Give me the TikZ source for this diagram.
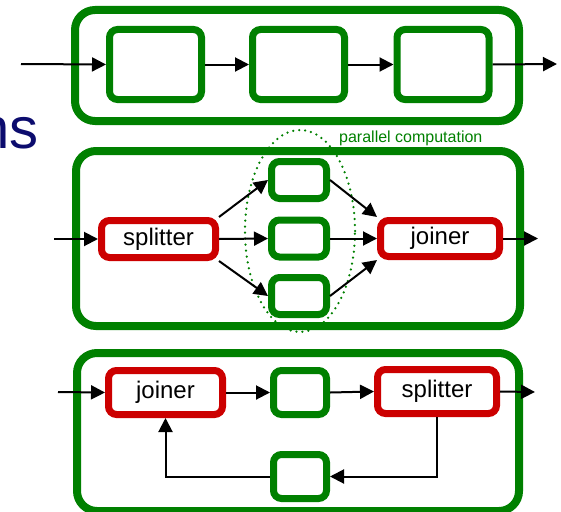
\documentclass[tikz,border=0pt]{standalone}
\usepackage{fontspec}
\setmainfont{Liberation Sans}
\usetikzlibrary{arrows.meta}
\definecolor{boxgreen}{RGB}{0,128,0}
\definecolor{boxred}{RGB}{204,0,0}
\definecolor{titleblue}{RGB}{12,12,110}

\begin{document}
\begin{tikzpicture}[x=1pt,y=-1pt,
  pipeline/.style={draw=boxgreen,line width=8pt,rounded corners=20pt,rectangle,inner sep=0pt},
  stage/.style={draw=boxgreen,fill=white,line width=7pt,rounded corners=8pt,rectangle,inner sep=0pt},
  splitjoin/.style={draw=boxred,fill=white,line width=7pt,rounded corners=8pt,rectangle,inner sep=0pt,
    font=\fontsize{24}{28}\selectfont},
  flow/.style={draw=black,line width=2pt,-{Triangle[length=14pt,width=14pt]}},
  link/.style={draw=black,line width=2pt},
  group/.style={draw=boxgreen,line width=2.5pt,line cap=round,dash pattern=on 0pt off 6pt}
]
\useasboundingbox (0,0) rectangle (561,511);

% clipped title fragment
\node[anchor=base east,inner sep=0pt,text=titleblue,font=\fontsize{58}{60}\selectfont] (title) at (39,148) {ns};

% outer composite boxes
\node[pipeline,minimum width=444pt,minimum height=111pt] (pipe) at (297,65.5) {};
\node[pipeline,minimum width=444pt,minimum height=175pt] (sj) at (298,238.5) {};
\node[pipeline,minimum width=442pt,minimum height=158pt] (fl) at (298,432) {};

% pipeline of three stages
\node[stage,minimum width=92pt,minimum height=70pt] (p1) at (155.5,64.5) {};
\node[stage,minimum width=92pt,minimum height=70pt] (p2) at (298.5,64.5) {};
\node[stage,minimum width=92pt,minimum height=70pt] (p3) at (443,64.5) {};
\coordinate (pin) at (21,64);
\coordinate (pout) at (557,64);
\draw[flow] (pin) -- (p1.west);
\draw[flow] (p1.east) -- (p2.west);
\draw[flow] (p2.east) -- (p3.west);
\draw[flow] (p3.east) -- (pout);

% split-join
\draw[group] (300pt,-231pt) ellipse [x radius=55pt,y radius=101pt];
\node[anchor=west,inner sep=0pt,text=boxgreen,font=\fontsize{16}{18}\selectfont] (plabel) at (339,138) {parallel computation};
\node[splitjoin,minimum width=114pt,minimum height=37pt] (split) at (158.5,239) {splitter};
\node[stage,minimum width=55pt,minimum height=37pt] (s1) at (299,180) {};
\node[stage,minimum width=55pt,minimum height=37pt] (s2) at (299,238.5) {};
\node[stage,minimum width=55pt,minimum height=37pt] (s3) at (299,296) {};
\node[splitjoin,minimum width=119pt,minimum height=36pt] (join) at (440,238.5) {joiner};
\coordinate (sin) at (54,239);
\coordinate (sout) at (538,238.5);
\draw[flow] (sin) -- (split.west);
\draw[flow] (split.north east) -- (s1.west);
\draw[flow] (split.east) -- (s2.west);
\draw[flow] (split.south east) -- (s3.west);
\draw[flow] (s1.east) -- (join.north west);
\draw[flow] (s2.east) -- (join.west);
\draw[flow] (s3.east) -- (join.south west);
\draw[flow] (join.east) -- (sout);

% feedback loop
\node[splitjoin,minimum width=114pt,minimum height=44pt] (fjoin) at (165.5,392.5) {joiner};
\node[stage,minimum width=53pt,minimum height=44pt] (fbody) at (300,392.5) {};
\node[splitjoin,minimum width=119pt,minimum height=44pt] (fsplit) at (437,391.5) {splitter};
\node[stage,minimum width=53pt,minimum height=44pt] (floop) at (300,476.5) {};
\coordinate (fin) at (58,392);
\coordinate (fout) at (535,392);
\draw[flow] (fin) -- (fjoin.west);
\draw[flow] (fjoin.east) -- (fbody.west);
\draw[flow] (fbody.east) -- (fsplit.west);
\draw[flow] (fsplit.east) -- (fout);
\draw[flow] (fsplit.south) |- (floop.east);
\draw[flow] (floop.west) -| (fjoin.south);
\end{tikzpicture}
\end{document}
